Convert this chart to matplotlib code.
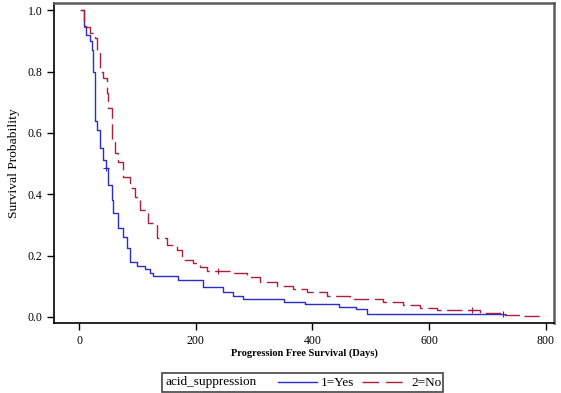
import matplotlib
matplotlib.use("Agg")
import matplotlib.pyplot as plt
from matplotlib.lines import Line2D
from matplotlib.patches import Rectangle

# Group 1=Yes (acid suppression)
yes_time = [0, 5, 8, 12, 18, 22, 24, 27, 28, 31, 36, 41, 46, 50, 56, 58, 67, 75, 82, 87,
            99, 113, 122, 127, 170, 212, 247, 264, 281, 351, 387, 446, 475, 493, 727]
yes_surv = [1.0, 1.0, 0.95, 0.92, 0.90, 0.87, 0.80, 0.71, 0.64, 0.61, 0.55, 0.51, 0.485, 0.43,
            0.38, 0.34, 0.29, 0.26, 0.225, 0.18, 0.166, 0.156, 0.143, 0.134, 0.121, 0.098,
            0.081, 0.068, 0.059, 0.049, 0.042, 0.033, 0.026, 0.010, 0.010]
yes_cens_t = [46, 727]
yes_cens_s = [0.485, 0.010]

# Group 2=No
no_time = [0, 2, 8, 19, 27, 31, 36, 41, 48, 50, 56, 62, 67, 75, 87, 96, 104, 118, 133, 150,
           168, 177, 196, 207, 220, 264, 288, 310, 339, 367, 391, 425, 464, 521, 555, 584,
           613, 688, 727, 760, 799]
no_surv = [1.0, 1.0, 0.945, 0.925, 0.91, 0.86, 0.80, 0.78, 0.73, 0.68, 0.57, 0.535, 0.505,
           0.455, 0.42, 0.39, 0.349, 0.306, 0.257, 0.235, 0.218, 0.186, 0.176, 0.163, 0.15,
           0.143, 0.13, 0.114, 0.101, 0.091, 0.081, 0.068, 0.059, 0.049, 0.039, 0.029, 0.023,
           0.013, 0.007, 0.004, 0.004]
no_cens_t = [238, 674]
no_cens_s = [0.15, 0.023]

x_ticks = [0, 200, 400, 600, 800]
y_ticks = [0.0, 0.2, 0.4, 0.6, 0.8, 1.0]

plt.rcParams['font.family'] = ['Liberation Serif', 'DejaVu Serif']

fig = plt.figure(figsize=(5.61, 3.93), dpi=100)
ax = fig.add_axes([0.0963, 0.178, 0.8912, 0.814])

blue = '#2B2BC8'
red = '#A8213F'

ax.step(yes_time[1:], yes_surv[1:], where='post', color=blue, lw=1.0)
ax.step(no_time[1:], no_surv[1:], where='post', color=red, lw=1.0, dashes=(11, 4))
ax.plot(yes_cens_t, yes_cens_s, ls='none', marker='+', color=blue, ms=5, mew=0.8)
ax.plot(no_cens_t, no_cens_s, ls='none', marker='+', color=red, ms=5, mew=0.8)

ax.set_xlim(-43, 814)
ax.set_ylim(-0.02, 1.023)
ax.set_xticks(x_ticks)
ax.set_yticks(y_ticks)
ax.set_xticklabels([str(v) for v in x_ticks])
ax.set_yticklabels([f"{v:.1f}" for v in y_ticks])
ax.tick_params(direction='out', length=5, width=1, labelsize=8.5, colors='black')

for s in ['left', 'bottom']:
    ax.spines[s].set_color('black')
    ax.spines[s].set_linewidth(1.2)
for s in ['top', 'right']:
    ax.spines[s].set_color('#5a5a5a')
    ax.spines[s].set_linewidth(1.8)

ax.set_xlabel('Progression Free Survival (Days)', fontsize=7.5, fontweight='bold', labelpad=1)
ax.set_ylabel('Survival Probability', fontsize=9.7, labelpad=5)

# Legend box at bottom
W, H = 561.0, 393.0
def fx(px):
    return px / W
def fy(py):
    return 1 - py / H

fig.patches.append(Rectangle((fx(162), fy(392)), fx(443) - fx(162), fy(373) - fy(392),
                             transform=fig.transFigure, fill=False, edgecolor='#444444', lw=1.2))
fig.text(fx(165), fy(382.5), 'acid_suppression', fontsize=9.5, va='center', ha='left')
fig.lines.append(Line2D([fx(278), fx(317)], [fy(382), fy(382)], transform=fig.transFigure,
                        color=blue, lw=1.0))
fig.text(fx(321), fy(382.5), '1=Yes', fontsize=9.5, va='center', ha='left')
fig.lines.append(Line2D([fx(362), fx(407)], [fy(382), fy(382)], transform=fig.transFigure,
                        color=red, lw=1.0, dashes=(12, 5)))
fig.text(fx(411), fy(382.5), '2=No', fontsize=9.5, va='center', ha='left')

fig.savefig('out.png', dpi=100)
